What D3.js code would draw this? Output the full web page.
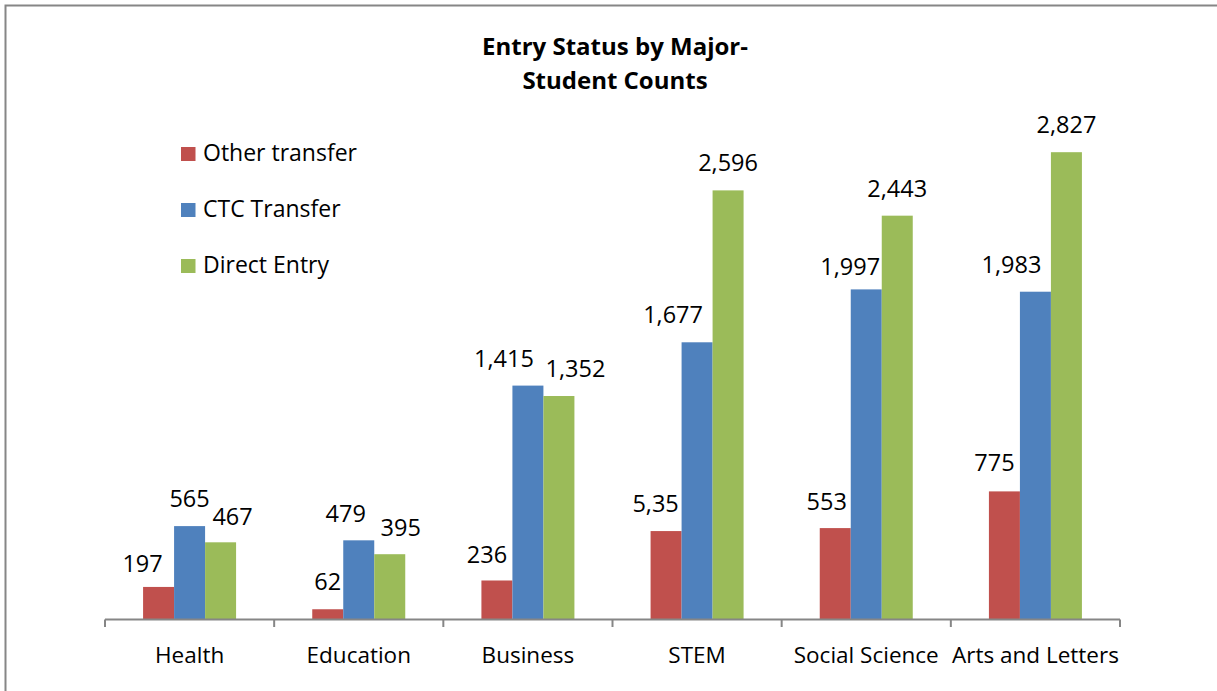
<!DOCTYPE html>
<html>
<head>
<meta charset="utf-8">
<script src="https://cdn.jsdelivr.net/npm/d3@7"></script>
<style>
	html, body { margin: 0; padding: 0; background: #fff; }
	svg text { font-family: "Open Sans", "Noto Sans", sans-serif; fill: #000; }
</style>
</head>
<body>
<div id="chart"></div>
<script>
var categories = ['Health', 'Education', 'Business', 'STEM', 'Social Science', 'Arts and Letters'];
var seriesNames = ['Other transfer', 'CTC Transfer', 'Direct Entry'];
var otherTransfer = [197, 62, 236, 535, 553, 775];
var ctcTransfer = [565, 479, 1415, 1677, 1997, 1983];
var directEntry = [467, 395, 1352, 2596, 2443, 2827];
// labels as printed on the chart (STEM one reads "5,35")
var otherLabels = ['197', '62', '236', '5,35', '553', '775'];
var colors = ['#c0504d', '#4f81bd', '#9bbb59'];

// hand-placed label nudges from the original (horizontal shift, gap above bar)
var labelShift = [
	[-16, 0, -10, -10.5, -8.5, -10],
	[0, -13, -24, -24, -16, -24],
	[12, 11, 16.5, 0, 0, 0]
];
var labelGap = [
	[15, 19, 17, 19, 18, 20],
	[19, 18, 19, 19, 14, 19],
	[17, 18, 19, 19, 19, 19]
];

var width = 1217, height = 691;
var svg = d3.select('#chart').append('svg').attr('width', width).attr('height', height);

// chart frame (only left and top visible)
svg.append('rect')
	.attr('x', 5.5).attr('y', 5.5)
	.attr('width', width + 20).attr('height', height + 20)
	.attr('fill', 'none').attr('stroke', '#868686').attr('stroke-width', 2);

var x0 = d3.scaleBand().domain(categories).range([105, 1120]);
var x1 = d3.scaleBand().domain(seriesNames).range([0, 93]);
var y = d3.scaleLinear().domain([0, 3000]).range([619.5, 123.6]);
var fmt = d3.format(',');

var rows = categories.map(function(c, i) {
	return {
		cat: c,
		vals: [
			{ s: seriesNames[0], v: otherTransfer[i], label: otherLabels[i], c: colors[0], dx: labelShift[0][i], gap: labelGap[0][i] },
			{ s: seriesNames[1], v: ctcTransfer[i], label: fmt(ctcTransfer[i]), c: colors[1], dx: labelShift[1][i], gap: labelGap[1][i] },
			{ s: seriesNames[2], v: directEntry[i], label: fmt(directEntry[i]), c: colors[2], dx: labelShift[2][i], gap: labelGap[2][i] }
		]
	};
});

var groups = svg.selectAll('g.grp').data(rows).enter().append('g')
	.attr('class', 'grp')
	.attr('transform', function(d) {
		return 'translate(' + (x0(d.cat) + (x0.bandwidth() - 93) / 2) + ',0)';
	});

groups.selectAll('rect').data(function(d) { return d.vals; }).enter().append('rect')
	.attr('x', function(d) { return x1(d.s); })
	.attr('width', x1.bandwidth())
	.attr('y', function(d) { return y(d.v); })
	.attr('height', function(d) { return y(0) - y(d.v); })
	.attr('fill', function(d) { return d.c; });

groups.selectAll('text').data(function(d) { return d.vals; }).enter().append('text')
	.attr('x', function(d) { return x1(d.s) + x1.bandwidth() / 2 + d.dx; })
	.attr('y', function(d) { return y(d.v) - d.gap; })
	.attr('text-anchor', 'middle')
	.attr('font-size', 23.5)
	.text(function(d) { return d.label; });

// x axis
var axis = svg.append('g').attr('transform', 'translate(0,619.5)')
	.call(d3.axisBottom(x0).tickSize(0));
axis.select('.domain').attr('stroke', '#868686').attr('stroke-width', 2)
	.attr('d', 'M105,0H1120');
axis.selectAll('text')
	.attr('font-size', 22.5)
	.attr('font-family', '"Open Sans", sans-serif')
	.attr('fill', '#000')
	.attr('y', 43).attr('dy', 0);

// boundary ticks between categories
var edges = categories.map(function(c) { return x0(c); }).concat([x0.range()[1]]);
svg.selectAll('line.edge').data(edges).enter().append('line')
	.attr('class', 'edge')
	.attr('x1', function(d) { return d; }).attr('x2', function(d) { return d; })
	.attr('y1', 619.5).attr('y2', 627)
	.attr('stroke', '#868686').attr('stroke-width', 2);

// title
var title = svg.append('text').attr('text-anchor', 'middle')
	.attr('font-size', 24).attr('font-weight', 'bold');
title.append('tspan').attr('x', 615).attr('y', 55).text('Entry Status by Major-');
title.append('tspan').attr('x', 615).attr('y', 89).text('Student Counts');

// legend
var legend = svg.selectAll('g.leg').data(seriesNames).enter().append('g')
	.attr('class', 'leg')
	.attr('transform', function(d, i) { return 'translate(181,' + (147 + i * 56) + ')'; });
legend.append('rect').attr('width', 14.5).attr('height', 14)
	.attr('fill', function(d, i) { return colors[i]; });
legend.append('text').attr('x', 22).attr('y', 14)
	.attr('font-size', 23).text(function(d) { return d; });
</script>
</body>
</html>
